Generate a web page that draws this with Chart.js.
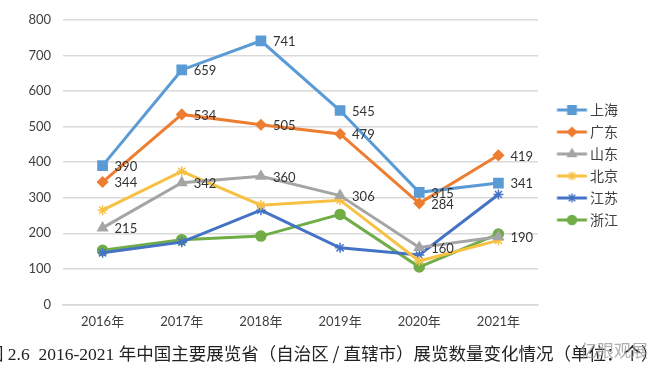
<!DOCTYPE html>
<html><head><meta charset="utf-8">
<script src="https://cdn.jsdelivr.net/npm/chart.js@4/dist/chart.umd.min.js"></script>
<style>
html,body{margin:0;padding:0;background:#fff;width:654px;height:372px;overflow:hidden;position:relative}
#wrap{position:absolute;left:0;top:0;width:654px;height:340px}
#cap{position:absolute;left:-14px;top:339px;white-space:nowrap;font-family:"Liberation Serif","Noto Sans CJK SC",serif;font-size:17.5px;color:#222;line-height:28px}
#cap .cjk{font-family:"Noto Sans CJK SC",sans-serif}
#wm{position:absolute;left:580px;top:337px;font-family:"Noto Sans CJK SC",sans-serif;font-size:17px;color:rgba(150,150,150,0.75);white-space:nowrap}
</style></head>
<body>
<div id="wrap"><canvas id="c" width="654" height="340"></canvas></div>
<div id="cap">图 2.6&nbsp; 2016-2021 <span class="cjk">年中国主要展览省（自治区 / 直辖市）展览数量变化情况（单位：个）</span></div>
<div id="wm">亿眼观展</div>
<script>
const categories = ["2016年","2017年","2018年","2019年","2020年","2021年"];
const seriesNames = ["上海","广东","山东","北京","江苏","浙江"];
const shanghai = [390, 659, 741, 545, 315, 341];
const guangdong = [344, 534, 505, 479, 284, 419];
const shandong = [215, 342, 360, 306, 160, 190];
const beijing = [265, 374, 279, 293, 122, 180];
const jiangsu = [145, 175, 265, 159, 139, 309];
const zhejiang = [152, 182, 192, 253, 105, 198];
const yTicks = [0,100,200,300,400,500,600,700,800];

const colors = ["#5b9bd5","#ed7d31","#a5a5a5","#f7c143","#4472c4","#70ad47"];
const styles = ["rect","rectRot","triangle","star","star","circle"];
const radii = [6.5,5,5.5,5,5,5];
const labelled = [true,true,true,false,false,false];
const values = [shanghai,guangdong,shandong,beijing,jiangsu,zhejiang];

function makeLegendImg(i){
  const c = document.createElement('canvas');
  c.width = 60; c.height = 16;
  const x = c.getContext('2d');
  x.strokeStyle = colors[i]; x.lineWidth = 3;
  x.beginPath(); x.moveTo(23.5,8); x.lineTo(53.5,8); x.stroke();
  x.fillStyle = colors[i]; x.strokeStyle = colors[i]; x.lineWidth = 1.5;
  if (Chart.helpers && Chart.helpers.drawPoint) {
    Chart.helpers.drawPoint(x, {pointStyle: styles[i], radius: radii[i]*0.9, rotation: 0, borderWidth: 1.5}, 38.5, 8);
  }
  return c;
}
const legendImgs = seriesNames.map((n,i)=>makeLegendImg(i));

const datasets = seriesNames.map((n,i)=>({
  label: n,
  data: values[i],
  borderColor: colors[i],
  backgroundColor: colors[i],
  borderWidth: 3,
  pointStyle: styles[i],
  pointRadius: radii[i],
  pointBorderWidth: 1.5,
  pointBackgroundColor: colors[i],
  pointBorderColor: colors[i],
  tension: 0,
  showLabels: labelled[i]
}));

const labelPlugin = {
  id: 'valueLabels',
  afterDatasetsDraw(chart){
    const ctx = chart.ctx;
    ctx.save();
    ctx.font = '13px Lato, "Liberation Sans", sans-serif';
    ctx.fillStyle = '#333';
    ctx.textAlign = 'left';
    ctx.textBaseline = 'middle';
    chart.data.datasets.forEach((ds, di)=>{
      if (!ds.showLabels) return;
      const meta = chart.getDatasetMeta(di);
      meta.data.forEach((pt, j)=>{
        ctx.fillText(String(ds.data[j]), pt.x + 12, pt.y + 1);
      });
    });
    ctx.restore();
  }
};

const legendHack = {
  id: 'legendHack',
  beforeLayout(chart){
    const lg = chart.legend;
    if (lg && !lg._patched){
      const f = lg.fit;
      lg.fit = function(){ f.call(this); this.width = 116; };
      const d = lg.draw;
      lg.draw = function(){ const c = this.ctx; c.save(); c.translate(-2, -14); d.apply(this, arguments); c.restore(); };
      lg._patched = true;
    }
  }
};

new Chart(document.getElementById('c'), {
  type: 'line',
  data: { labels: categories, datasets: datasets },
  options: {
    responsive: false,
    animation: false,
    layout: { padding: { top: 18, bottom: 0, left: 0, right: 0 } },
    plugins: {
      legend: {
        position: 'right',
        labels: {
          usePointStyle: true,
          pointStyleWidth: 39,
          padding: 8,
          color: '#404040',
          font: { size: 14, family: '"Noto Sans CJK SC", sans-serif' },
          generateLabels(chart){
            const items = Chart.defaults.plugins.legend.labels.generateLabels(chart);
            items.forEach((it, i)=>{ it.pointStyle = legendImgs[it.datasetIndex]; });
            return items;
          }
        }
      },
      tooltip: { enabled: false },
      title: { display: false }
    },
    scales: {
      x: {
        offset: true,
        grid: { display: false, drawTicks: false },
        border: { display: true, color: '#d9d9d9', width: 1.5 },
        ticks: { color: '#404040', font: { size: 13, family: 'Lato, "Noto Sans CJK SC", sans-serif' }, padding: 10 }
      },
      y: {
        min: 0, max: 800,
        afterBuildTicks(scale){ scale.ticks = yTicks.map(v=>({value:v})); },
        afterFit(scale){ scale.width = 63; },
        grid: { color: '#d9d9d9', lineWidth: 1.5, drawTicks: false },
        border: { display: false },
        ticks: { color: '#404040', font: { size: 13, family: 'Lato, "Liberation Sans", sans-serif' }, padding: 12 }
      }
    }
  },
  plugins: [labelPlugin, legendHack]
});
</script>
</body></html>
